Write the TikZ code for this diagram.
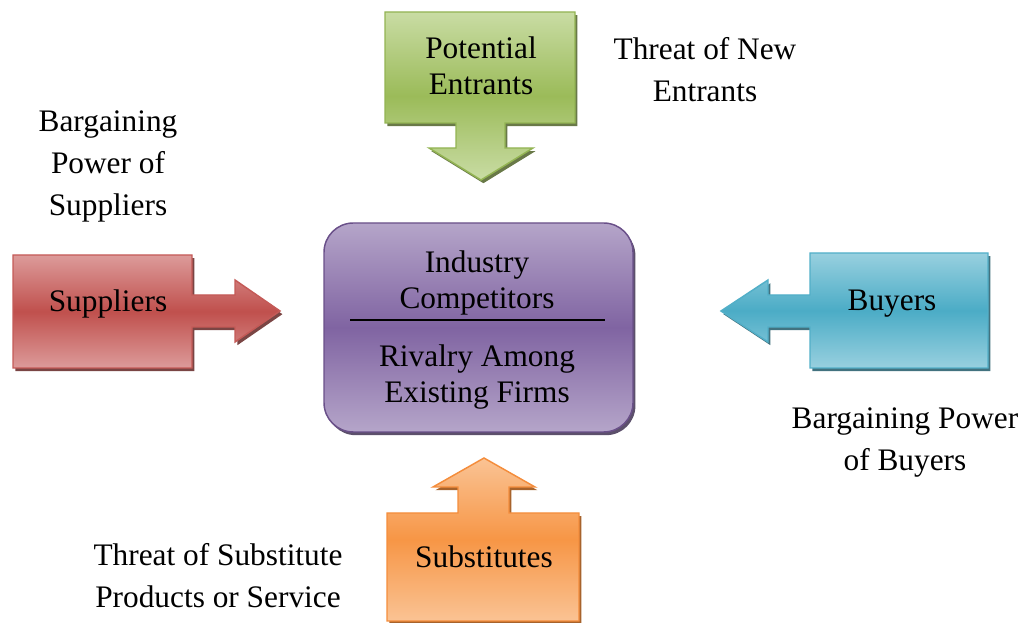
\documentclass[tikz,border=0pt]{standalone}
\usepackage{fontspec}
\setmainfont{Liberation Serif}
\usetikzlibrary{positioning}

\definecolor{greenL}{HTML}{C9DCA4}
\definecolor{greenM}{HTML}{9BBB59}
\definecolor{greenB}{HTML}{93B453}
\definecolor{greenS}{HTML}{4F6228}
\definecolor{redL}{HTML}{DC9B9A}
\definecolor{redM}{HTML}{C0504D}
\definecolor{redB}{HTML}{C45A57}
\definecolor{redS}{HTML}{632523}
\definecolor{blueL}{HTML}{98D0DF}
\definecolor{blueM}{HTML}{4BACC6}
\definecolor{blueB}{HTML}{52AFC8}
\definecolor{blueS}{HTML}{215968}
\definecolor{orangeL}{HTML}{FAC394}
\definecolor{orangeM}{HTML}{F79646}
\definecolor{orangeB}{HTML}{F48D3C}
\definecolor{orangeS}{HTML}{984807}
\definecolor{purpleL}{HTML}{B5A5C9}
\definecolor{purpleM}{HTML}{8064A2}
\definecolor{purpleB}{HTML}{6A5089}
\definecolor{purpleS}{HTML}{3F3151}

\tikzset{
  shadowed/.style={preaction={draw=none,fill=#1,opacity=0.85,
      transform canvas={shift={(1.8pt,-2.4pt)}}}},
  force/.style n args={4}{line width=1.1pt,line join=miter,draw=#3,
      top color=#1,bottom color=#1,middle color=#2,shadowed=#4},
  boxtext/.style={align=center,font=\fontsize{23.5}{27}\selectfont},
  note/.style={align=center,font=\fontsize{23.5}{31.5}\selectfont},
}

\begin{document}
\begin{tikzpicture}[x=0.75pt,y=-0.75pt]
\useasboundingbox (0,0) rectangle (1033,623);

% potential entrants (down arrow callout)
\draw[force={greenL}{greenM}{greenB}{greenS}]
  (385,12) -- (575,12) -- (575,123) -- (505,123) -- (505,148) -- (533,148)
  -- (481,180) -- (429,148) -- (456,148) -- (456,123) -- (385,123) -- cycle;
% suppliers (right arrow callout)
\draw[force={redL}{redM}{redB}{redS}]
  (13,255) -- (192,255) -- (192,295) -- (235,295) -- (235,280) -- (280,311)
  -- (235,342) -- (235,327) -- (192,327) -- (192,368) -- (13,368) -- cycle;
% buyers (left arrow callout)
\draw[force={blueL}{blueM}{blueB}{blueS}]
  (988,253) -- (988,368) -- (810,368) -- (810,327) -- (768,327) -- (768,342)
  -- (721,311) -- (768,280) -- (768,295) -- (810,295) -- (810,253) -- cycle;
% substitutes (up arrow callout)
\draw[force={orangeL}{orangeM}{orangeB}{orangeS}]
  (387,621) -- (387,513) -- (458,513) -- (458,487) -- (433,487) -- (484,458)
  -- (535,487) -- (509,487) -- (509,513) -- (579,513) -- (579,621) -- cycle;

% industry competitors
\node[force={purpleL}{purpleM}{purpleB}{purpleS},rounded corners=22pt,
  minimum width=231.75pt,minimum height=156.75pt] (core) at (478.5,327.5) {};
\node[boxtext] (industry) at (477,283) {Industry\\Competitors};
\node[boxtext] (rivalry) at (477,377) {Rivalry Among\\Existing Firms};
\coordinate (split w) at (350,320);
\coordinate (split e) at (605,320);
\draw[line width=1pt] (split w) -- (split e);

\node[boxtext] (entrants) at (481,66) {Potential\\Entrants};
\node[boxtext] (suppliers) at (108,304) {Suppliers};
\node[boxtext] (buyers) at (892,304) {Buyers};
\node[boxtext] (substitutes) at (484,557) {Substitutes};

\node[note] (newthreat) at (705,70) {Threat of New\\Entrants};
\node[note] (supplierpower) at (108,166) {Bargaining\\Power of\\Suppliers};
\node[note] (buyerpower) at (905,443) {Bargaining Power\\of Buyers};
\node[note] (subthreat) at (218,576) {Threat of Substitute\\Products or Service};
\end{tikzpicture}
\end{document}
